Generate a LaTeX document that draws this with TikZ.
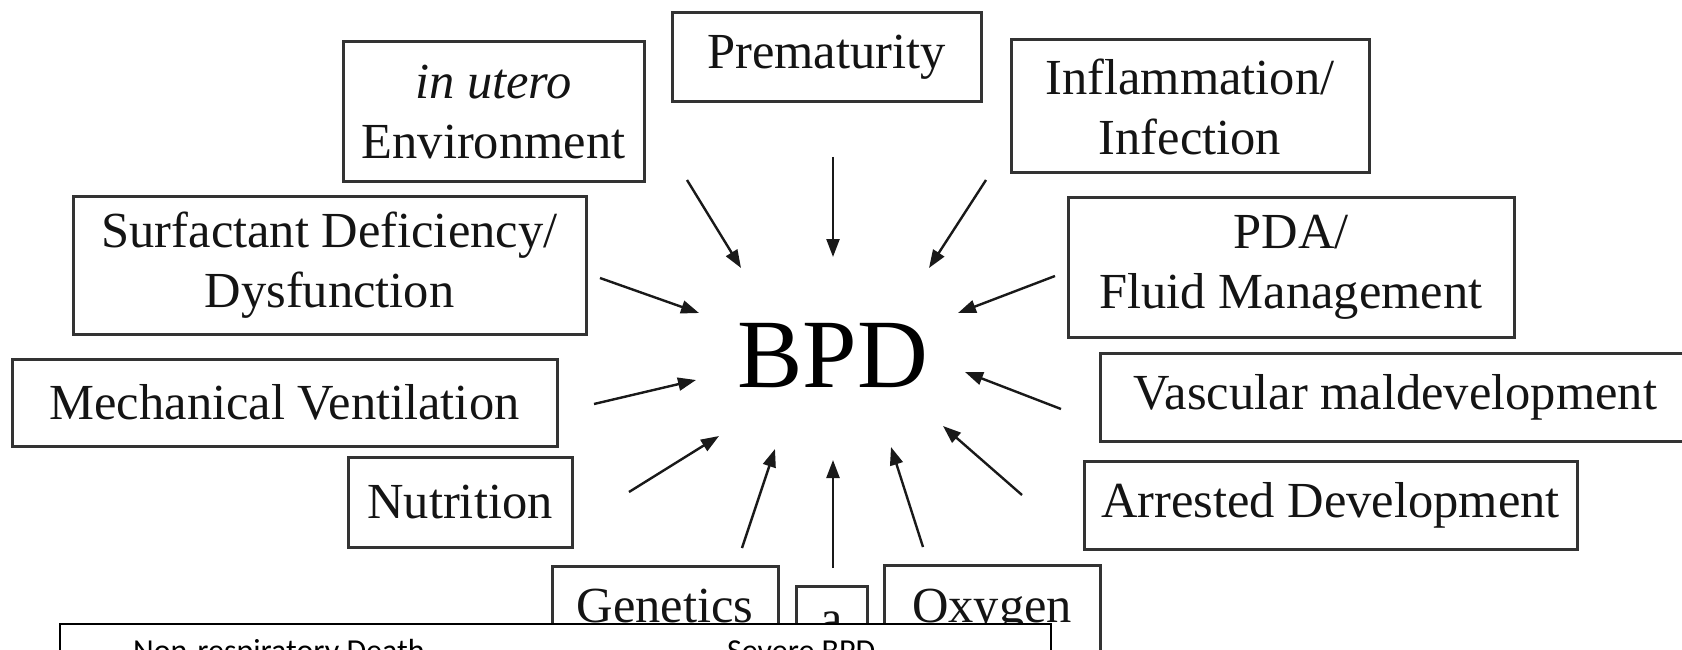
\documentclass[tikz,border=0pt]{standalone}
\usepackage{fontspec}
\setmainfont{Liberation Serif}
\newfontfamily\calib{Carlito}
\usetikzlibrary{arrows.meta}
\tikzset{
  box/.style={draw=black!80, line width=3pt, inner sep=0pt, align=center,
    text=black!92, font=\fontsize{50.5}{60}\selectfont},
  lowbox/.style={box, anchor=north, inner ysep=0pt},
  arr/.style={draw=black!90, line width=2.4pt, -{Triangle[length=18pt,width=13pt]}},
  overlay box/.style={draw=black, line width=1.5pt, fill=white, inner sep=0pt},
  sanslabel/.style={font=\calib\fontsize{32}{38}\selectfont, text=black, inner sep=0pt, anchor=base west}
}
\begin{document}
\begin{tikzpicture}[x=1pt,y=-1pt]
\fill[white] (0,0) rectangle (1682,650);
\clip (0,0) rectangle (1682,650);

% boxes
\node[box, minimum width=301pt, minimum height=140pt] (inutero) at (493.5,112) {\textit{in utero}\\Environment};
\node[box, minimum width=309pt, minimum height=89pt] (prem) at (826.5,57.5) {Prematurity};
\node[box, minimum width=358pt, minimum height=133pt] (inflam) at (1190,106.5) {Inflammation/\\Infection};
\node[box, minimum width=513pt, minimum height=138pt] (surf) at (329.5,265) {Surfactant Deficiency/\\Dysfunction};
\node[box, minimum width=446pt, minimum height=140pt] (pda) at (1291,267) {PDA/\\Fluid Management};
\node[box, minimum width=545pt, minimum height=87pt] (mech) at (284.5,402.5) {Mechanical Ventilation};
\node[box, minimum width=591pt, minimum height=88pt] (vasc) at (1395.5,397) {Vascular maldevelopment};
\node[box, minimum width=224pt, minimum height=90pt] (nutr) at (460,502) {Nutrition};
\node[box, minimum width=493pt, minimum height=88pt] (arrest) at (1330.5,505) {Arrested Development};
\node[lowbox, minimum width=226pt, text height=56pt, text depth=44pt] (gen) at (665,565) {Genetics};
\node[lowbox, minimum width=71pt, text height=49pt, text depth=30pt] (abox) at (831.5,585) {a};
\node[lowbox, minimum width=216pt, text height=57pt, text depth=44pt] (oxy) at (992,564) {Oxygen};

% center
\node[font=\fontsize{98}{110}\selectfont, text=black, inner sep=0pt, anchor=base] (bpd) at (832.5,387) {BPD};

% arrow end points
\coordinate (s1) at (687,180);  \coordinate (e1) at (741,268);
\coordinate (s2) at (833,157);  \coordinate (e2) at (833,257);
\coordinate (s3) at (986,180);  \coordinate (e3) at (929,268);
\coordinate (s4) at (600,278);  \coordinate (e4) at (699,313);
\coordinate (s5) at (1055,276); \coordinate (e5) at (958,313);
\coordinate (s6) at (594,404);  \coordinate (e6) at (696,380);
\coordinate (s7) at (1061,409); \coordinate (e7) at (965,372);
\coordinate (s8) at (629,492);  \coordinate (e8) at (719,436);
\coordinate (s9) at (1022,495); \coordinate (e9) at (943,426);
\coordinate (s10) at (742,548); \coordinate (e10) at (775,449);
\coordinate (s11) at (833,568); \coordinate (e11) at (833,460);
\coordinate (s12) at (923,547); \coordinate (e12) at (891,447);

\foreach \i in {1,...,12} { \draw[arr] (s\i) -- (e\i); }

% overlay panel
\node[overlay box, anchor=north west, minimum width=991pt, minimum height=80pt] (panel) at (59,623) {};
\node[sanslabel] (nrd) at (133,661) {Non-respiratory Death};
\node[sanslabel] (sbpd) at (727,661) {Severe BPD};
\end{tikzpicture}
\end{document}
